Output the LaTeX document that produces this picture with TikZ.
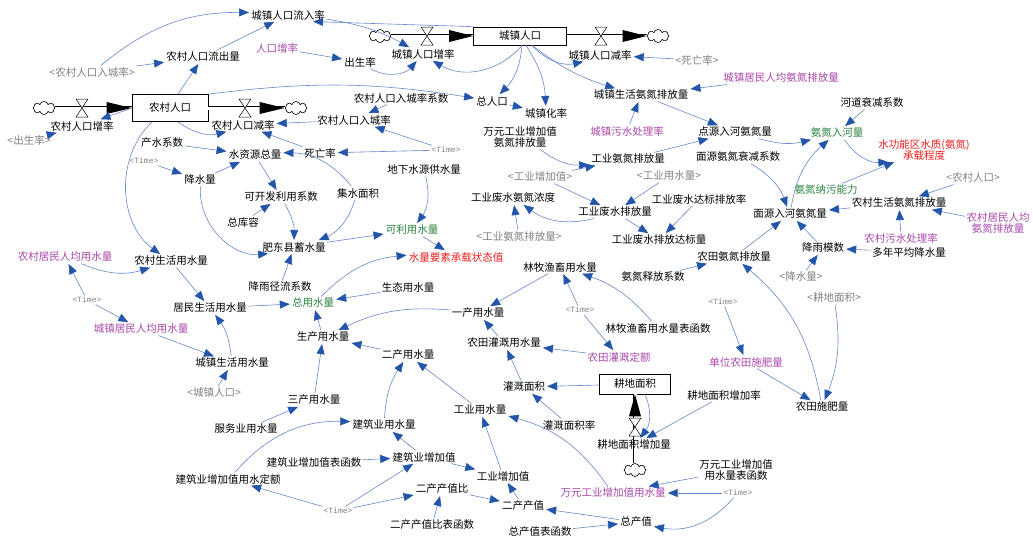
\documentclass[tikz,border=0pt]{standalone}
\usepackage{fontspec}
\setmainfont{Noto Sans CJK SC}
\newfontfamily\tmfont{Liberation Mono}
\usetikzlibrary{arrows.meta,shapes.symbols}
\newcommand\myfs{\fontsize{10.5}{11}\selectfont}
\definecolor{lnc}{RGB}{100,135,205}
\definecolor{hdc}{RGB}{35,85,170}
\definecolor{gyc}{RGB}{128,128,128}
\definecolor{puc}{RGB}{170,70,170}
\definecolor{gnc}{RGB}{40,130,60}
\definecolor{rdc}{RGB}{240,30,30}
\tikzset{
  txt/.style={font=\myfs, inner sep=1.5pt, align=center},
  gtxt/.style={txt, text=gyc},
  ptxt/.style={txt, text=puc},
  ntxt/.style={txt, text=gnc},
  rtxt/.style={txt, text=rdc},
  tmtxt/.style={font=\tmfont\fontsize{8}{9}\selectfont, text=gyc, inner sep=1.5pt},
  stockbox/.style={draw=black, line width=0.7pt, font=\myfs, inner sep=0pt},
  ar/.style={draw=lnc, line width=0.6pt, -{Triangle[length=10pt,width=8pt,color=hdc]}, shorten >=0.5pt},
  pipe/.style={draw=black, line width=0.5pt, double=white, double distance=3pt},
  cloudnode/.style={cloud, draw=black, line width=0.6pt, cloud puffs=8, minimum width=22pt, minimum height=13pt, inner sep=0pt, fill=white},
  valve/.pic={\draw[black, line width=0.5pt, fill=white] (-6,-9) -- (6,-9) -- (-6,9) -- (6,9) -- cycle;}
}
\begin{document}
\begin{tikzpicture}[x=1pt,y=-1pt]
\useasboundingbox (0,0) rectangle (1033,538);
% ---------- stocks and flows ----------
\node[stockbox, minimum width=76pt, minimum height=27pt] (nc) at (170,108) {农村人口};
\node[stockbox, minimum width=93pt, minimum height=18pt] (cz) at (520,36) {城镇人口};
\node[stockbox, minimum width=71pt, minimum height=20pt] (gd) at (635,384) {耕地面积};
\node[cloudnode] (cl1) at (44,108) {};
\node[cloudnode] (cl2) at (296,108) {};
\node[cloudnode] (cl3) at (380,36) {};
\node[cloudnode] (cl4) at (658,36) {};
\node[cloudnode] (cl5) at (635,470) {};
\draw[pipe] (cl1.east) -- (nc.west);
\draw[pipe] (nc.east) -- (cl2.west);
\draw[pipe] (cl3.east) -- (cz.west);
\draw[pipe] (cz.east) -- (cl4.west);
\draw[pipe] (cl5.north) -- (gd.south);
\fill[black] (nc.west) -- ++(-25,-6) -- ++(0,12) -- cycle;
\fill[black] (cl2.west) -- ++(-25,-6) -- ++(0,12) -- cycle;
\fill[black] (cz.west) -- ++(-24,-6) -- ++(0,12) -- cycle;
\fill[black] (cl4.west) -- ++(-24,-6) -- ++(0,12) -- cycle;
\fill[black] (gd.south) -- ++(-6,22) -- ++(12,0) -- cycle;
\pic at (82,108) {valve};
\pic at (245,108) {valve};
\pic at (427,36) {valve};
\pic at (601,36) {valve};
\pic at (635,427) {valve};
% ---------- variables ----------
\node[txt] (cjlrl) at (288,15) {城镇人口流入率};
\node[txt] (czzl) at (423,54) {城镇人口增率};
\node[txt] (czjl) at (600,55) {城镇人口减率};
\node[txt] (csl) at (360,62) {出生率};
\node[ptxt] (rkzl) at (277,48) {人口增率};
\node[txt] (ncout) at (203,57) {农村人口流出量};
\node[gtxt] (sncrcl) at (92,72) {<农村人口入城率>};
\node[txt] (nczl) at (82,126) {农村人口增率};
\node[gtxt] (scsl) at (29,140) {<出生率>};
\node[txt] (ncjl) at (243,125) {农村人口减率};
\node[txt] (csxs) at (162,143) {产水系数};
\node[txt] (szy) at (255,155) {水资源总量};
\node[txt] (swl) at (320,153) {死亡率};
\node[tmtxt] (time1) at (144,161) {<Time>};
\node[txt] (jsl) at (200,180) {降水量};
\node[txt] (kkf) at (281,197) {可开发利用系数};
\node[txt] (zkr) at (243,222) {总库容};
\node[txt] (jsmj) at (358,193) {集水面积};
\node[txt] (fdx) at (294,247) {肥东县蓄水量};
\node[txt] (jyjl) at (280,287) {降雨径流系数};
\node[txt] (ncsh) at (171,261) {农村生活用水量};
\node[ptxt] (ncjm) at (65,257) {农村居民人均用水量};
\node[tmtxt] (time2) at (87,300) {<Time>};
\node[ptxt] (czjm) at (141,329) {城镇居民人均用水量};
\node[txt] (jmsh) at (210,308) {居民生活用水量};
\node[txt] (czsh) at (232,363) {城镇生活用水量};
\node[gtxt] (sczrk) at (214,393) {<城镇人口>};
\node[ntxt] (zys) at (313,303) {总用水量};
\node[txt] (scys) at (323,337) {生产用水量};
\node[txt] (scy3) at (314,400) {三产用水量};
\node[txt] (fwy) at (246,429) {服务业用水量};
\node[txt] (jzys) at (384,425) {建筑业用水量};
\node[txt] (jzhs) at (314,462) {建筑业增加值表函数};
\node[txt] (jzz) at (424,457) {建筑业增加值};
\node[txt] (jzde) at (228,479) {建筑业增加值用水定额};
\node[tmtxt] (time3) at (338,511) {<Time>};
\node[txt] (ecb) at (442,489) {二产产值比};
\node[txt] (ecbh) at (432,525) {二产产值比表函数};
\node[txt] (ecy) at (408,355) {二产用水量};
\node[txt] (gyys) at (480,410) {工业用水量};
\node[txt] (gyz) at (503,476) {工业增加值};
\node[txt] (eccz) at (523,506) {二产产值};
\node[txt] (zcz) at (636,522) {总产值};
\node[txt] (zczh) at (540,532) {总产值表函数};
\node[ptxt] (wyys) at (613,493) {万元工业增加值用水量};
\node[txt] (wyyh) at (736,470) {万元工业增加值\\用水量表函数};
\node[tmtxt] (time4) at (738,493) {<Time>};
\node[txt] (gdzl) at (634,445) {耕地面积增加量};
\node[txt] (gdzr) at (724,395) {耕地面积增加率};
\node[txt] (ggmj) at (524,387) {灌溉面积};
\node[txt] (ggl) at (569,425) {灌溉面积率};
\node[txt] (ntgg) at (504,343) {农田灌溉用水量};
\node[ptxt] (ntde) at (619,357) {农田灌溉定额};
\node[ptxt] (dwsf) at (746,362) {单位农田施肥量};
\node[txt] (ntsf) at (822,407) {农田施肥量};
\node[tmtxt] (time5) at (723,302) {<Time>};
\node[gtxt] (sgd) at (834,298) {<耕地面积>};
\node[txt] (lmy) at (560,267) {林牧渔畜用水量};
\node[txt] (lmyh) at (658,328) {林牧渔畜用水量表函数};
\node[tmtxt] (time6) at (580,310) {<Time>};
\node[txt] (ycys) at (478,313) {一产用水量};
\node[txt] (styl) at (408,288) {生态用水量};
\node[rtxt] (slys) at (456,257) {水量要素承载状态值};
\node[ntxt] (klys) at (412,230) {可利用水量};
\node[txt] (dxs) at (424,170) {地下水源供水量};
\node[txt] (gfnd) at (513,198) {工业废水氨氮浓度};
\node[gtxt] (sgyad) at (519,237) {<工业氨氮排放量>};
\node[txt] (gfpf) at (615,212) {工业废水排放量};
\node[txt] (gfdb) at (659,240) {工业废水排放达标量};
\node[txt] (gfdl) at (699,199) {工业废水达标排放率};
\node[gtxt] (sgyz) at (540,177) {<工业增加值>};
\node[gtxt] (sgyys) at (669,176) {<工业用水量>};
\node[txt] (gyad) at (628,159) {工业氨氮排放量};
\node[txt] (wyad) at (520,137) {万元工业增加值\\氨氮排放量};
\node[tmtxt] (time7) at (446,150) {<Time>};
\node[txt] (zrk) at (492,101) {总人口};
\node[txt] (czhl) at (546,113) {城镇化率};
\node[txt] (rcxs) at (401,98) {农村人口入城率系数};
\node[txt] (rcl) at (354,120) {农村人口入城率};
\node[txt] (czad) at (641,95) {城镇生活氨氮排放量};
\node[ptxt] (czjad) at (781,78) {城镇居民人均氨氮排放量};
\node[gtxt] (sswl) at (697,60) {<死亡率>};
\node[ptxt] (czws) at (627,131) {城镇污水处理率};
\node[txt] (dyrh) at (735,132) {点源入河氨氮量};
\node[txt] (myxs) at (738,157) {面源氨氮衰减系数};
\node[txt] (hdxs) at (872,103) {河道衰减系数};
\node[ntxt] (adrh) at (837,133) {氨氮入河量};
\node[rtxt] (szgn) at (924,150) {水功能区水质(氨氮)\\承载程度};
\node[ntxt] (adnw) at (826,190) {氨氮纳污能力};
\node[txt] (myrh) at (790,214) {面源入河氨氮量};
\node[txt] (ncad) at (899,203) {农村生活氨氮排放量};
\node[gtxt] (sncrk) at (973,178) {<农村人口>};
\node[ptxt] (ncjad) at (998,223) {农村居民人均\\氨氮排放量};
\node[ptxt] (ncws) at (901,238) {农村污水处理率};
\node[txt] (jymx) at (823,248) {降雨模数};
\node[txt] (dnpj) at (909,252) {多年平均降水量};
\node[gtxt] (sjsl) at (801,277) {<降水量>};
\node[txt] (ntad) at (734,257) {农田氨氮排放量};
\node[txt] (adsf) at (653,277) {氨氮释放系数};
% ---------- connectors ----------
\draw[ar] (sncrcl) to[bend left=20] (cjlrl);
\draw[ar] (sncrcl) -- (ncout);
\draw[ar] ([xshift=8pt]nc.north) -- (ncout);
\draw[ar] (ncout) -- (cjlrl);
\draw[ar] (cz.north west) -- (cjlrl.-15);
\draw[ar] (cjlrl) to[bend left=10] (czzl);
\draw[ar] (csl) to[bend right=40] (czzl);
\draw[ar] (rkzl) -- (csl);
\draw[ar] ([xshift=2pt]cz.south) to[bend left=40] (czzl);
\draw[ar] ([xshift=2pt]cz.south) to[bend left=20] (zrk);
\draw[ar] ([xshift=6pt]cz.south) to[bend left=15] (czhl);
\draw[ar] ([xshift=12pt]cz.south) to[bend right=10] (czad);
\draw[ar] ([xshift=12pt]cz.south) to[bend right=30] (czjl);
\draw[ar] (sswl) -- (czjl);
\draw[ar] (zrk) -- (czhl);
\draw[ar] (nc.north east) to[bend left=8] (zrk);
\draw[ar] (rcxs) -- (rcl);
\draw[ar] (time7) -- (rcl);
\draw[ar] (time7) -- (swl);
\draw[ar] (rcl) -- (ncjl);
\draw[ar] (swl) -- (ncjl);
\draw[ar] ([xshift=8pt]nc.south) to[bend right=25] (ncjl);
\draw[ar] (scsl) -- (nczl);
\draw[ar] (nc.west) -- (nczl);
\draw[ar] (csxs) -- (szy);
\draw[ar] (jsl) -- (szy);
\draw[ar] (jsmj) to[bend right=25] (szy);
\draw[ar] (time1) -- (jsl);
\draw[ar] (szy) -- (kkf);
\draw[ar] (zkr) -- (kkf);
\draw[ar] (kkf) to[bend left=15] (fdx);
\draw[ar] (jsmj) to[bend left=25] (fdx);
\draw[ar] (jsl) to[bend right=50] (fdx);
\draw[ar] (jyjl) -- (fdx);
\draw[ar] (fdx) -- (klys);
\draw[ar] (dxs) to[bend left=25] (klys);
\draw[ar] (klys) -- (slys);
\draw[ar] (zys) to[bend left=20] (slys);
\draw[ar] (styl) -- (zys);
\draw[ar] (ncjm) to[bend right=20] (ncsh);
\draw[ar] (time2) -- (ncjm);
\draw[ar] (time2) -- (czjm);
\draw[ar] ([xshift=-18pt]nc.south) to[bend right=50] (ncsh);
\draw[ar] (ncsh) -- (jmsh);
\draw[ar] (czjm) -- (czsh);
\draw[ar] (sczrk) -- (czsh);
\draw[ar] (czsh) to[bend right=15] (jmsh);
\draw[ar] (jmsh) -- (zys);
\draw[ar] (scys) -- (zys);
\draw[ar] (ycys) to[bend right=15] (scys);
\draw[ar] (ecy) -- (scys);
\draw[ar] (scy3) -- (scys);
\draw[ar] (fwy) -- (scy3);
\draw[ar] (jzys) to[bend left=15] (ecy);
\draw[ar] (gyys) -- (ecy);
\draw[ar] (jzz) -- (jzys);
\draw[ar] (jzde) to[bend left=25] (jzys);
\draw[ar] (jzhs) -- (jzz);
\draw[ar] (time3) -- (jzz);
\draw[ar] (time3) -- (jzde);
\draw[ar] (time3) -- (ecb);
\draw[ar] (ecbh) -- (ecb);
\draw[ar] (ecb) -- (eccz);
\draw[ar] (jzz) -- (gyz);
\draw[ar] (eccz) -- (gyz);
\draw[ar] (gyz) -- (gyys);
\draw[ar] (wyys) to[bend right=20] (gyys);
\draw[ar] (zcz) -- (eccz);
\draw[ar] (zczh) -- (zcz);
\draw[ar] (time4) to[bend left=30] (zcz);
\draw[ar] (time4) -- (wyys);
\draw[ar] (wyyh) -- (wyys);
\draw[ar] (gd) -- (ggmj);
\draw[ar] (ggmj) -- (ntgg);
\draw[ar] (ggl) -- (ggmj);
\draw[ar] (ntde) -- (ntgg);
\draw[ar] (time6) -- (ntde);
\draw[ar] (time6) -- (lmy);
\draw[ar] (lmyh) to[bend right=15] (lmy);
\draw[ar] (lmy) -- (ycys);
\draw[ar] (ntgg) -- (ycys);
\draw[ar] ([xshift=10pt]gd.south) to[bend left=30] (gdzl);
\draw[ar] (gdzr) -- (gdzl);
\draw[ar] (time5) -- (dwsf);
\draw[ar] (dwsf) -- (ntsf);
\draw[ar] (sgd) to[bend left=15] (ntsf);
\draw[ar] (ntsf) to[bend right=20] (ntad);
\draw[ar] (adsf) -- (ntad);
\draw[ar] (ntad) -- (myrh);
\draw[ar] (jymx) -- (myrh);
\draw[ar] (dnpj) -- (jymx);
\draw[ar] (sjsl) -- (jymx);
\draw[ar] (ncad) -- (myrh);
\draw[ar] (sncrk) -- (ncad);
\draw[ar] (ncjad) -- (ncad);
\draw[ar] (ncws) -- (ncad);
\draw[ar] (myxs) to[bend left=20] (myrh);
\draw[ar] (myrh) to[bend left=20] (adrh);
\draw[ar] (dyrh) to[bend right=15] (adrh);
\draw[ar] (hdxs) -- (adrh);
\draw[ar] (adrh) to[bend right=30] (szgn);
\draw[ar] (adnw) -- (szgn);
\draw[ar] (czad) -- (dyrh);
\draw[ar] (gyad) -- (dyrh);
\draw[ar] (czws) -- (czad);
\draw[ar] (czjad) -- (czad);
\draw[ar] (wyad) to[bend right=20] (gyad);
\draw[ar] (sgyz) -- (gyad);
\draw[ar] (sgyz) -- (gfpf);
\draw[ar] (sgyys) -- (gfpf);
\draw[ar] (gfpf) to[bend left=25] (gfnd);
\draw[ar] (sgyad) -- (gfnd);
\draw[ar] (gfpf) -- (gfdb);
\draw[ar] (gfdl) -- (gfdb);
\end{tikzpicture}
\end{document}
